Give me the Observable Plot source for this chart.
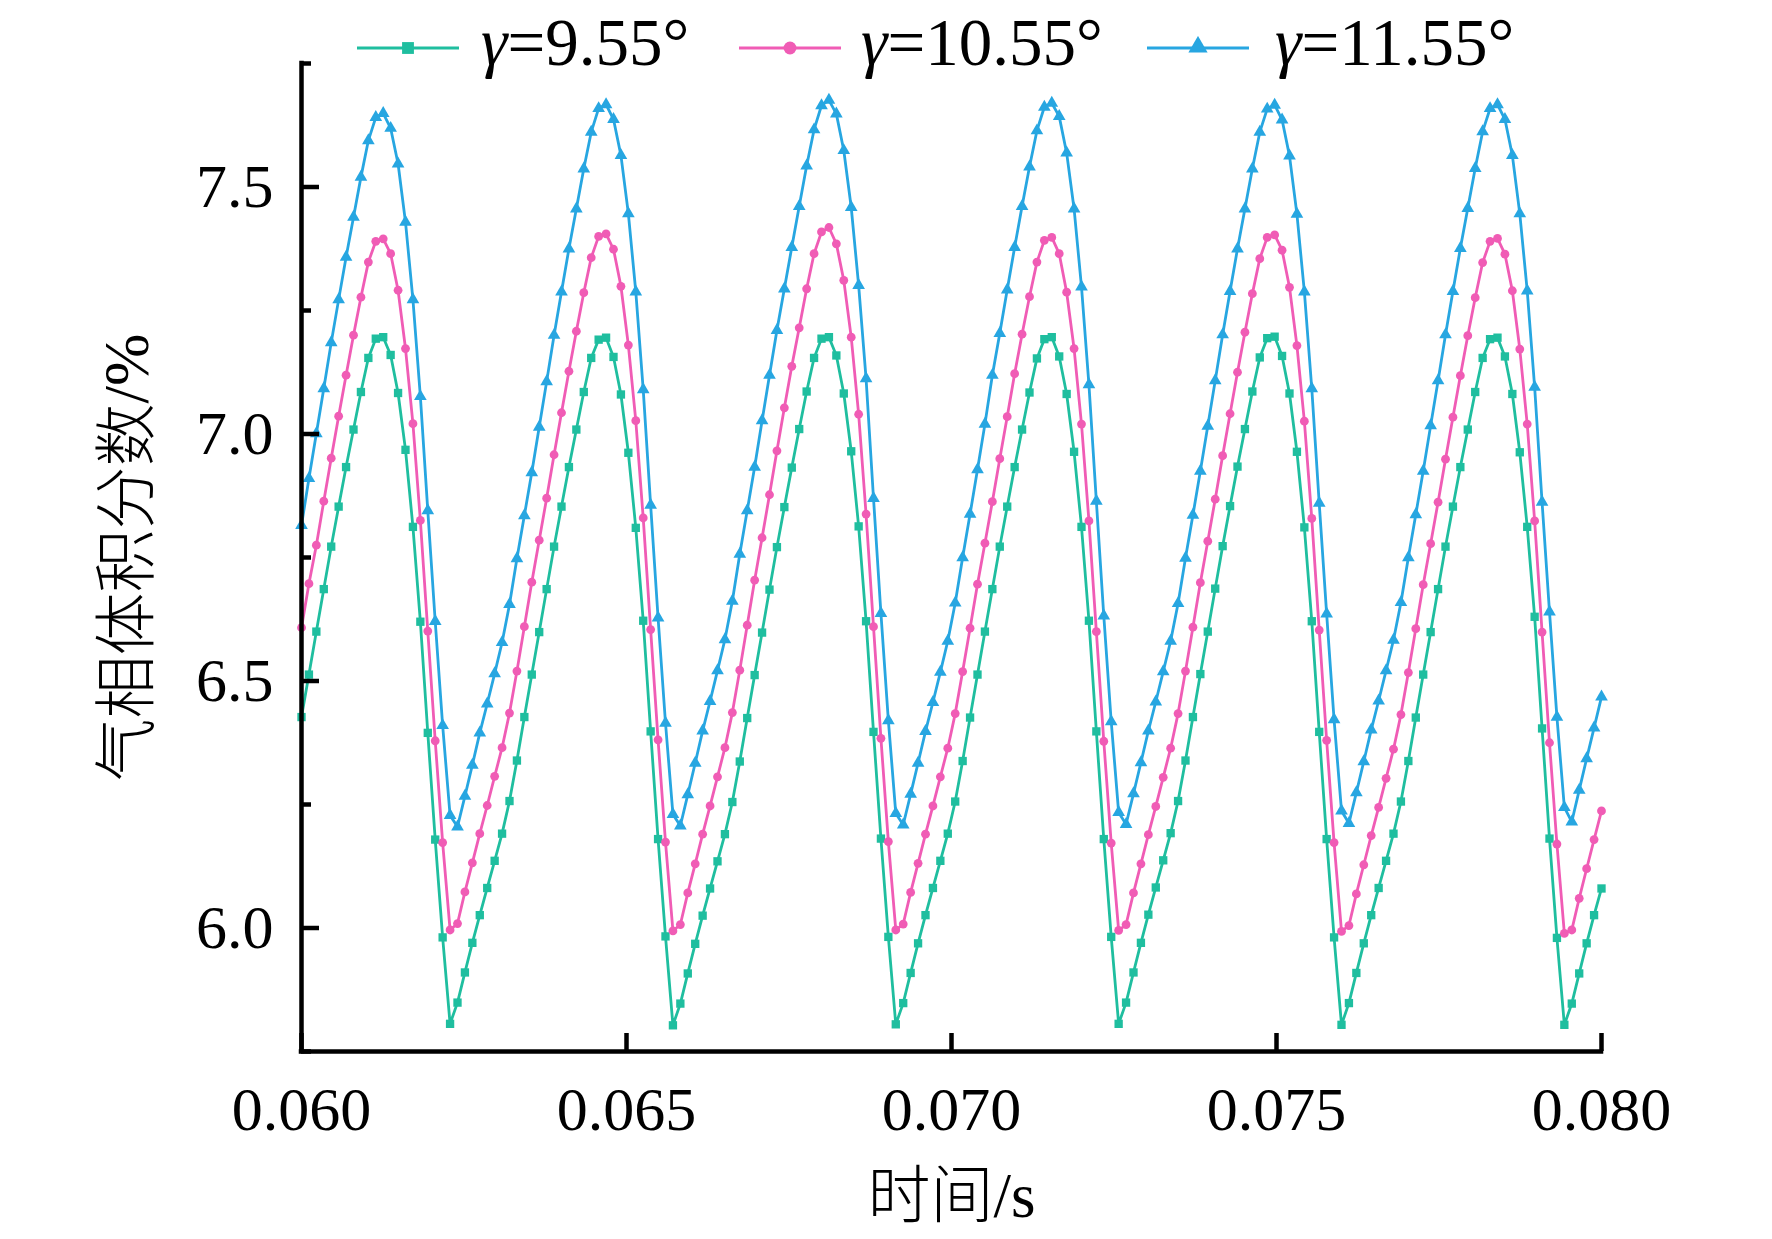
<!DOCTYPE html>
<html>
<head>
<meta charset="utf-8">
<script src="https://cdn.jsdelivr.net/npm/d3@7"></script>
<script src="https://cdn.jsdelivr.net/npm/@observablehq/plot@0.6"></script>
<style>
  html, body { margin: 0; padding: 0; background: #fff; }
  #wrap { position: relative; width: 1772px; height: 1239px; overflow: hidden; }
  #wrap svg.plot { position: absolute; left: 0; top: 0; }
  .leg-line { position: absolute; top: 36px; }
  .leg-text { position: absolute; top: 9px; font-family: 'Liberation Serif', 'Times New Roman', serif; font-size: 67px; line-height: 1; color: #000; white-space: nowrap; }
  .leg-text i { font-style: italic; }
</style>
</head>
<body>
<div id="wrap"></div>
<script>
// ---- data ----
const seriesNames = ["γ=9.55°", "γ=10.55°", "γ=11.55°"];
const seriesColors = ["#1fbe9f", "#f05cb5", "#27a6e1"];
const timeStart = 0.060;
const timeStep = 0.02 / 175;   // 176 samples from 0.060 s to 0.080 s

const gamma955 = [
  6.427, 6.513, 6.600, 6.686, 6.772, 6.853, 6.933, 7.009, 7.085, 7.154, 7.193, 7.196, 7.160, 7.083, 6.968, 6.812, 6.620, 6.395, 6.179, 5.981,
  5.806, 5.849, 5.910, 5.970, 6.026, 6.081, 6.136, 6.191, 6.257, 6.339, 6.427, 6.513, 6.599, 6.686, 6.772, 6.853, 6.933, 7.009, 7.085, 7.154, 7.191, 7.195, 7.156, 7.080, 6.962, 6.810, 6.622, 6.398, 6.180, 5.983,
  5.803, 5.847, 5.908, 5.968, 6.025, 6.080, 6.135, 6.190, 6.255, 6.337, 6.425, 6.512, 6.598, 6.685, 6.771, 6.852, 6.932, 7.010, 7.086, 7.154, 7.193, 7.196, 7.159, 7.082, 6.965, 6.813, 6.621, 6.397, 6.181, 5.982,
  5.805, 5.848, 5.909, 5.969, 6.026, 6.081, 6.136, 6.191, 6.256, 6.338, 6.426, 6.513, 6.600, 6.686, 6.772, 6.853, 6.933, 7.009, 7.084, 7.153, 7.192, 7.196, 7.157, 7.081, 6.964, 6.812, 6.622, 6.398, 6.180, 5.982,
  5.806, 5.849, 5.910, 5.970, 6.027, 6.082, 6.137, 6.192, 6.257, 6.339, 6.427, 6.514, 6.600, 6.687, 6.773, 6.854, 6.934, 7.010, 7.086, 7.155, 7.194, 7.197, 7.158, 7.082, 6.964, 6.811, 6.621, 6.397, 6.180, 5.981,
  5.804, 5.848, 5.909, 5.969, 6.026, 6.081, 6.136, 6.191, 6.256, 6.338, 6.426, 6.513, 6.599, 6.686, 6.772, 6.853, 6.933, 7.009, 7.085, 7.154, 7.192, 7.195, 7.157, 7.081, 6.963, 6.812, 6.630, 6.404, 6.181, 5.980,
  5.804, 5.847, 5.908, 5.969, 6.026, 6.080
];
const gamma1055 = [
  6.608, 6.697, 6.775, 6.864, 6.951, 7.036, 7.119, 7.200, 7.277, 7.348, 7.390, 7.395, 7.365, 7.291, 7.173, 7.021, 6.825, 6.601, 6.379, 6.173,
  5.996, 6.009, 6.073, 6.132, 6.191, 6.248, 6.307, 6.365, 6.435, 6.520, 6.610, 6.700, 6.785, 6.870, 6.958, 7.043, 7.127, 7.208, 7.286, 7.357, 7.400, 7.405, 7.374, 7.299, 7.180, 7.027, 6.830, 6.604, 6.381, 6.174,
  5.994, 6.007, 6.071, 6.130, 6.190, 6.247, 6.306, 6.365, 6.436, 6.522, 6.613, 6.704, 6.790, 6.877, 6.966, 7.053, 7.137, 7.215, 7.294, 7.365, 7.409, 7.418, 7.385, 7.311, 7.196, 7.040, 6.838, 6.610, 6.384, 6.175,
  5.996, 6.008, 6.072, 6.131, 6.190, 6.247, 6.306, 6.364, 6.434, 6.519, 6.607, 6.696, 6.779, 6.863, 6.950, 7.035, 7.122, 7.202, 7.278, 7.348, 7.392, 7.398, 7.365, 7.287, 7.173, 7.020, 6.824, 6.600, 6.378, 6.172,
  5.995, 6.007, 6.071, 6.130, 6.189, 6.246, 6.305, 6.364, 6.434, 6.520, 6.609, 6.699, 6.783, 6.868, 6.956, 7.041, 7.125, 7.206, 7.284, 7.355, 7.398, 7.403, 7.372, 7.297, 7.179, 7.026, 6.829, 6.603, 6.380, 6.173,
  5.993, 6.005, 6.069, 6.128, 6.187, 6.244, 6.303, 6.362, 6.432, 6.517, 6.606, 6.695, 6.778, 6.862, 6.949, 7.034, 7.118, 7.199, 7.276, 7.347, 7.390, 7.396, 7.364, 7.290, 7.172, 7.020, 6.824, 6.599, 6.375, 6.170,
  5.989, 5.996, 6.060, 6.120, 6.179, 6.237
];
const gamma1155 = [
  6.815, 6.910, 7.001, 7.092, 7.185, 7.272, 7.358, 7.439, 7.520, 7.594, 7.641, 7.649, 7.619, 7.547, 7.429, 7.272, 7.076, 6.845, 6.621, 6.410,
  6.228, 6.205, 6.267, 6.330, 6.395, 6.454, 6.515, 6.578, 6.655, 6.748, 6.835, 6.922, 7.014, 7.106, 7.200, 7.288, 7.375, 7.456, 7.537, 7.611, 7.659, 7.667, 7.637, 7.564, 7.446, 7.288, 7.090, 6.856, 6.628, 6.415,
  6.230, 6.207, 6.270, 6.334, 6.399, 6.459, 6.521, 6.584, 6.662, 6.757, 6.845, 6.933, 7.027, 7.119, 7.210, 7.294, 7.378, 7.461, 7.543, 7.616, 7.665, 7.676, 7.648, 7.574, 7.459, 7.301, 7.112, 6.870, 6.637, 6.420,
  6.232, 6.209, 6.271, 6.334, 6.398, 6.457, 6.518, 6.581, 6.658, 6.750, 6.838, 6.928, 7.020, 7.119, 7.204, 7.292, 7.378, 7.461, 7.541, 7.614, 7.662, 7.670, 7.643, 7.569, 7.456, 7.298, 7.100, 6.864, 6.632, 6.418,
  6.234, 6.210, 6.272, 6.335, 6.399, 6.458, 6.519, 6.581, 6.657, 6.749, 6.836, 6.925, 7.016, 7.108, 7.201, 7.289, 7.375, 7.456, 7.537, 7.611, 7.658, 7.666, 7.636, 7.563, 7.445, 7.288, 7.092, 6.860, 6.636, 6.422,
  6.237, 6.212, 6.274, 6.337, 6.401, 6.460, 6.521, 6.583, 6.659, 6.750, 6.837, 6.925, 7.017, 7.108, 7.201, 7.289, 7.376, 7.457, 7.538, 7.612, 7.659, 7.667, 7.637, 7.564, 7.446, 7.290, 7.095, 6.862, 6.640, 6.427,
  6.244, 6.215, 6.279, 6.343, 6.405, 6.468
];

const xTicks = [0.060, 0.065, 0.070, 0.075, 0.080];
const yMajorTicks = [6.0, 6.5, 7.0, 7.5];
const yMinorTicks = [5.75, 6.25, 6.75, 7.25, 7.75];
const xDomain = [0.060, 0.080];
const yDomain = [5.75, 7.75];
const xTitle = "时间/s";
const yTitle = "气相体积分数/%";

// ---- build tidy rows ----
const seriesValues = [gamma955, gamma1055, gamma1155];
const rows = seriesValues.map((vals, s) =>
  vals.map((v, i) => ({t: timeStart + i * timeStep, v, s}))
);

// ---- layout ----
const W = 1772, H = 1239;
const mL = 301, mR = 171, mT = 63, mB = 188;
const plotW = W - mL - mR, plotH = H - mT - mB;
const fontStack = "'Liberation Serif', 'Noto Sans CJK SC', serif";
const axisW = 4.5;
const symbols = ["square", "circle", "triangle"];

const marks = [
  Plot.axisX({ticks: xTicks, tickFormat: d3.format(".3f"), tickSize: 0, tickPadding: 34, fontSize: 62, label: null}),
  Plot.axisY({ticks: yMajorTicks, tickFormat: d3.format(".1f"), tickSize: 0, tickPadding: 28, fontSize: 62, label: null}),
];
rows.forEach((data, s) => {
  marks.push(Plot.line(data, {x: "t", y: "v", stroke: seriesColors[s], strokeWidth: 2.8, curve: "linear"}));
  marks.push(Plot.dot(data, {x: "t", y: "v", fill: seriesColors[s], stroke: "none", r: s === 1 ? 4.4 : 4.7, symbol: symbols[s]}));
});
marks.push(
  Plot.tickY(yMajorTicks, {y: d => d, insetRight: plotW - 18, stroke: "#000", strokeWidth: axisW}),
  Plot.tickY(yMinorTicks, {y: d => d, insetRight: plotW - 10, stroke: "#000", strokeWidth: axisW}),
  Plot.tickX(xTicks, {x: d => d, insetTop: plotH - 18, stroke: "#000", strokeWidth: axisW}),
  Plot.ruleX([xDomain[0]], {stroke: "#000", strokeWidth: axisW, strokeLinecap: "square"}),
  Plot.ruleY([yDomain[0]], {stroke: "#000", strokeWidth: axisW, strokeLinecap: "square"}),
  Plot.text([xTitle], {frameAnchor: "bottom", dy: 145, fontSize: 63, fontWeight: 300, lineAnchor: "middle", textAnchor: "middle", fill: "#000"}),
  Plot.text([yTitle], {frameAnchor: "left", dx: -174, rotate: -90, fontSize: 63, fontWeight: 300, lineAnchor: "middle", textAnchor: "middle", fill: "#000"})
);

const chart = Plot.plot({
  width: W, height: H,
  marginLeft: mL, marginRight: mR, marginTop: mT, marginBottom: mB,
  x: {domain: xDomain},
  y: {domain: yDomain},
  style: {fontFamily: fontStack, fontSize: "62px", color: "#000", background: "transparent", overflow: "visible"},
  marks
});
chart.classList.add("plot");
const wrap = document.getElementById("wrap");
wrap.appendChild(chart);

// ---- legend (HTML overlay above the plot area) ----
const legendLineLeft = [356, 738, 1146];
const legendTextLeft = [481, 861, 1275];
const legendLabels = [["γ", "=9.55°"], ["γ", "=10.55°"], ["γ", "=11.55°"]];
legendLabels.forEach((lab, s) => {
  const ns = "http://www.w3.org/2000/svg";
  const svg = document.createElementNS(ns, "svg");
  svg.setAttribute("width", 104); svg.setAttribute("height", 24);
  svg.setAttribute("class", "leg-line");
  svg.style.left = legendLineLeft[s] + "px";
  const line = document.createElementNS(ns, "line");
  line.setAttribute("x1", 1); line.setAttribute("x2", 103);
  line.setAttribute("y1", 12); line.setAttribute("y2", 12);
  line.setAttribute("stroke", seriesColors[s]); line.setAttribute("stroke-width", 3);
  svg.appendChild(line);
  const sym = document.createElementNS(ns, "path");
  const sz = s === 0 ? 140 : s === 1 ? 130 : 160;
  sym.setAttribute("d", d3.symbol(s === 0 ? d3.symbolSquare : s === 1 ? d3.symbolCircle : d3.symbolTriangle, sz)());
  sym.setAttribute("transform", `translate(52,${s === 2 ? 11 : 12})`);
  sym.setAttribute("fill", seriesColors[s]);
  svg.appendChild(sym);
  wrap.appendChild(svg);
  const txt = document.createElement("div");
  txt.className = "leg-text";
  txt.style.left = legendTextLeft[s] + "px";
  const it = document.createElement("i"); it.textContent = lab[0];
  txt.appendChild(it);
  txt.appendChild(document.createTextNode(lab[1]));
  wrap.appendChild(txt);
});
</script>
</body>
</html>
